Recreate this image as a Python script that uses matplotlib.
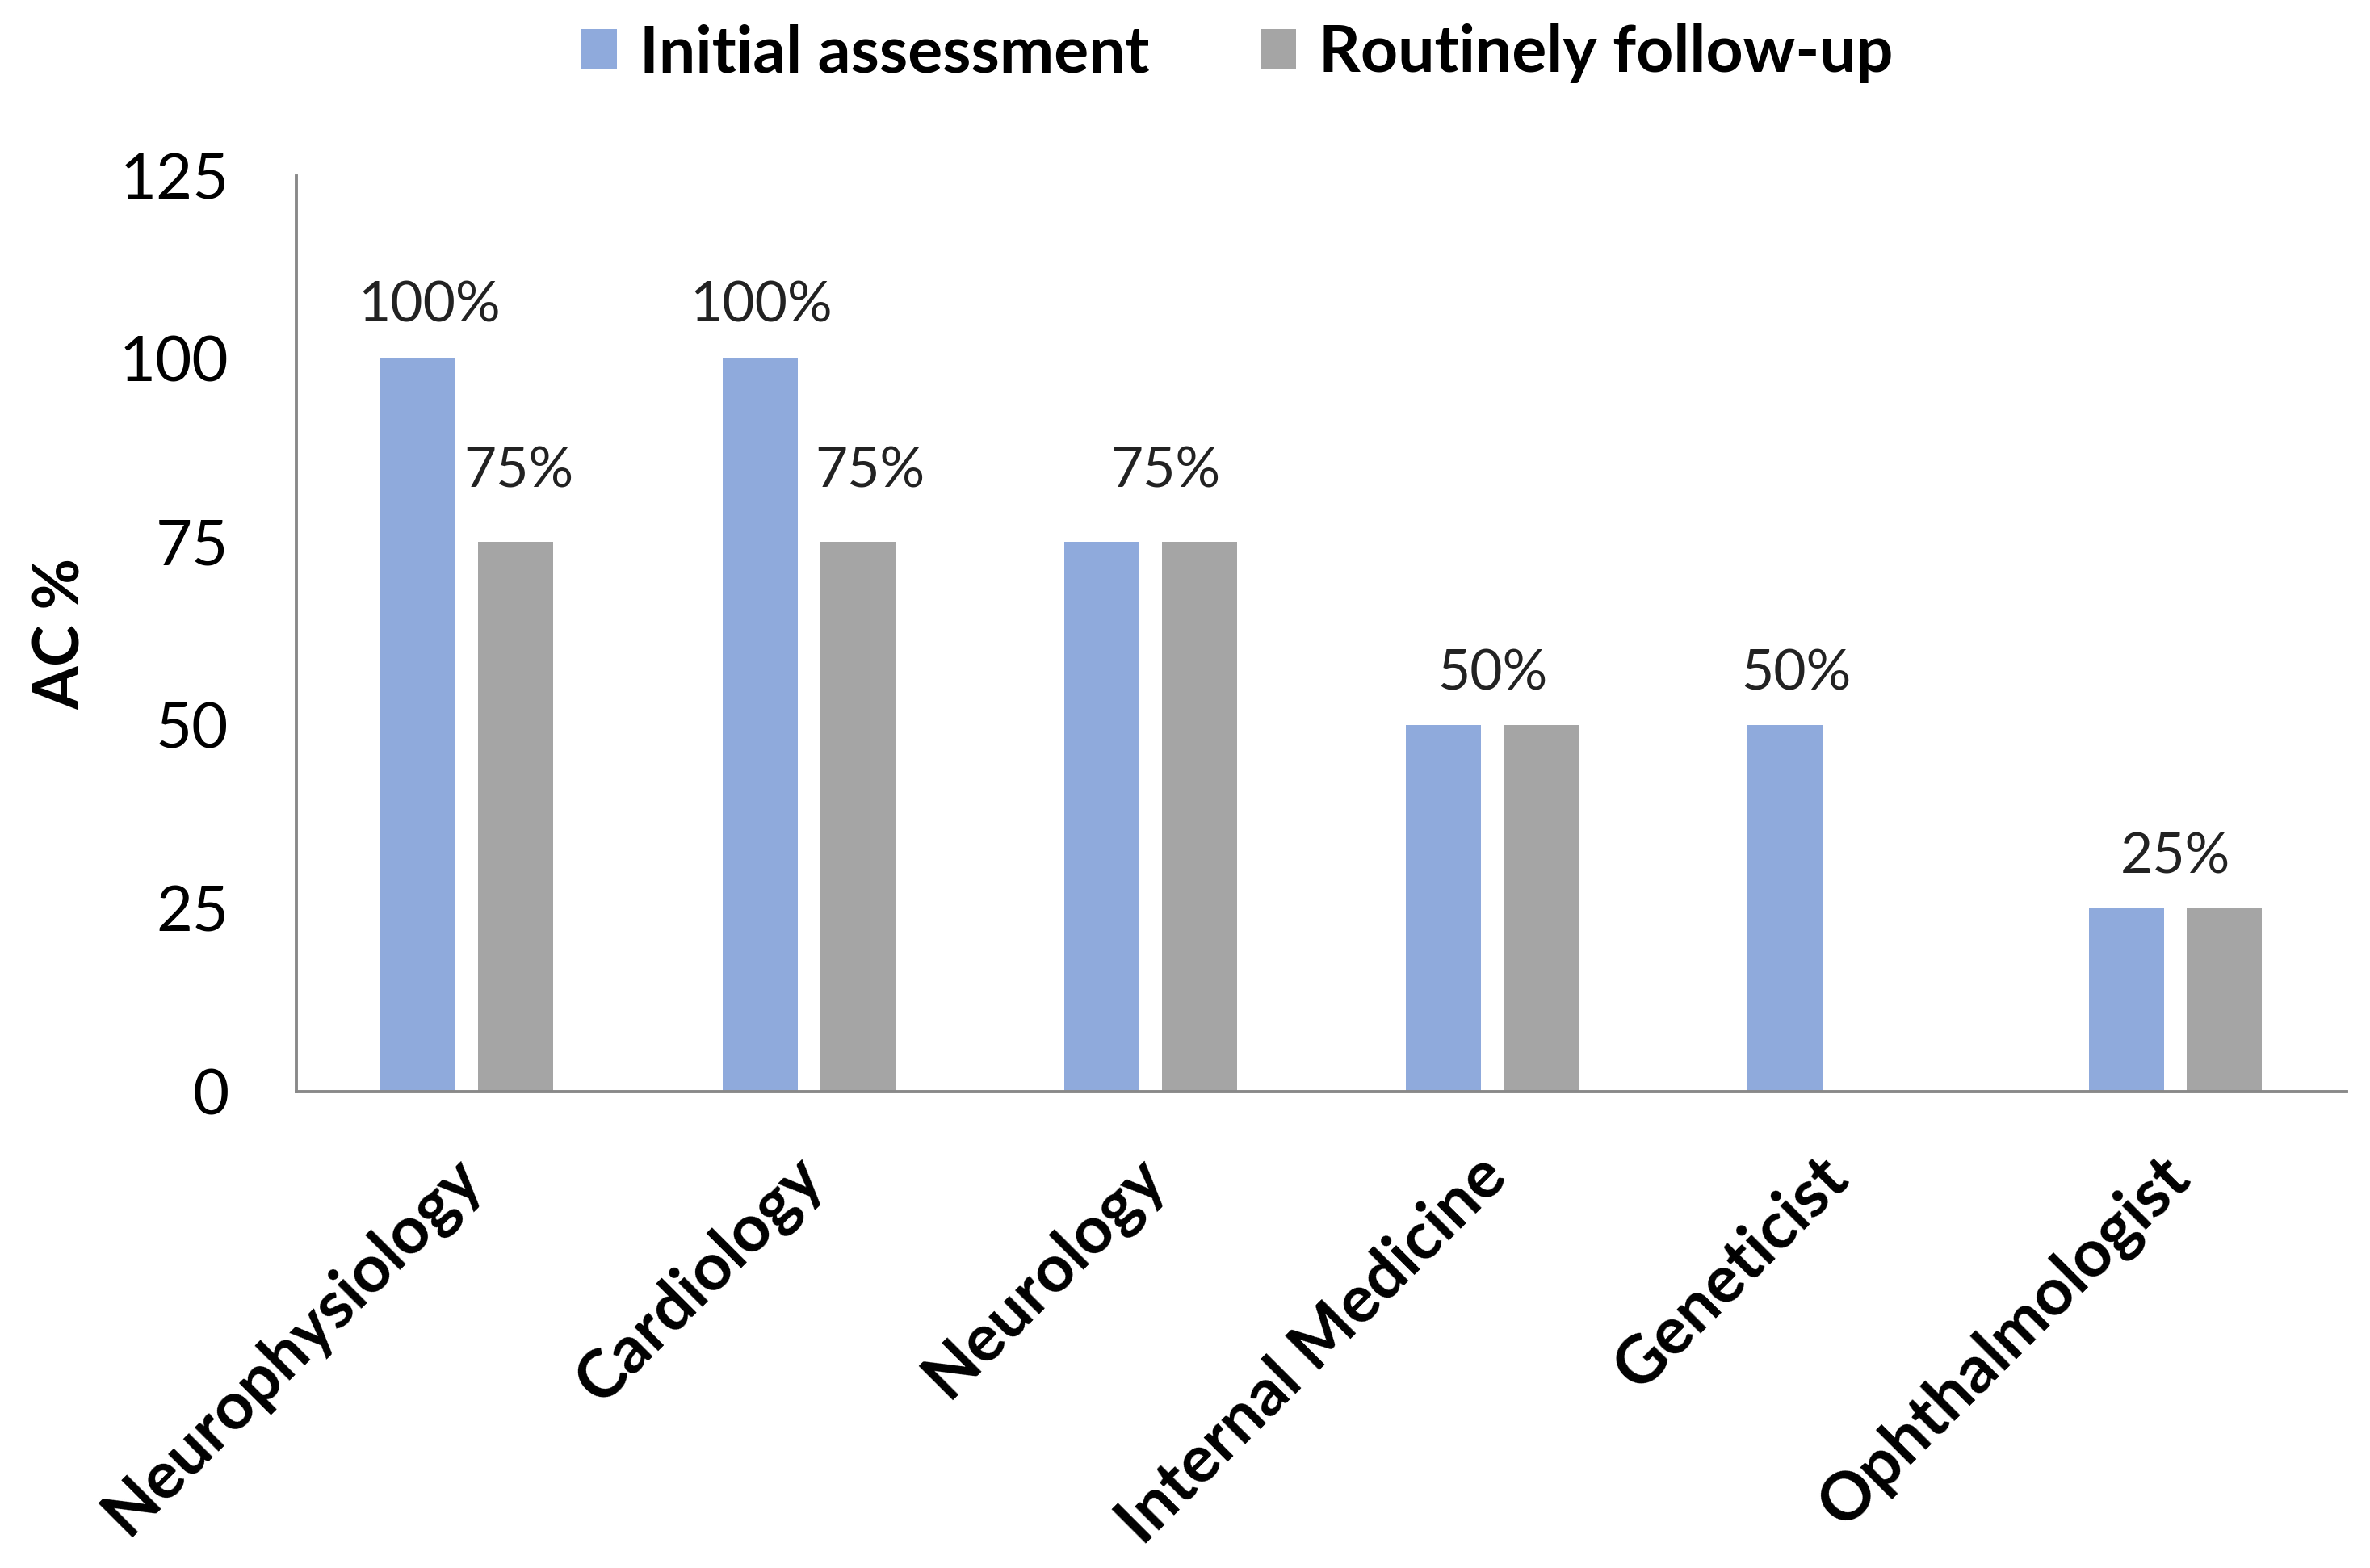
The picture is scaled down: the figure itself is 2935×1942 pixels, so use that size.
import numpy as np
import matplotlib.pyplot as plt
import matplotlib.transforms as mtransforms

plt.rcParams['font.family'] = ['Lato', 'DejaVu Sans']

# data
categories = ['Neurophysiology', 'Cardiology', 'Neurology',
              'Internal Medicine', 'Geneticist', 'Ophthalmologist']
initial = [100, 100, 75, 50, 50, 25]
followup = [75, 75, 75, 50, 0, 25]
series_names = ['Initial assessment', 'Routinely follow-up']

# value labels: (category index, value, text)
labels = [(0, 100, '100%'), (0, 75, '75%'),
          (1, 100, '100%'), (1, 75, '75%'),
          (2, 75, '75%'),
          (3, 50, '50%'),
          (4, 50, '50%'),
          (5, 25, '25%')]
# label placement (x shift in category units, y gap in data units)
label_dx = [-0.11, 0.15, -0.14, 0.18, 0.045, 0.0, -0.11, 0.0]
label_dy = [5.0, 7.5, 5.0, 7.5, 7.5, 4.8, 4.8, 4.8]

blue = '#8FAADC'
gray = '#A5A5A5'

fig = plt.figure(figsize=(14.675, 9.71), dpi=200)
ax = fig.add_axes([0.125, 0.304, 0.865, 0.584])

x = np.arange(len(categories))
w = 0.22
off = 0.143
b1 = ax.bar(x - off, initial, w, color=blue, label=series_names[0])
b2 = ax.bar(x + off, followup, w, color=gray, label=series_names[1])

for (i, v, t), dx, dy in zip(labels, label_dx, label_dy):
    ax.text(i + dx, v + dy, t, ha='center', va='baseline', fontsize=25, color='#222222')

ax.set_xlim(-0.5, len(categories) - 0.5)
ax.set_ylim(0, 125)
ax.set_yticks([0, 25, 50, 75, 100, 125])
ax.tick_params(axis='y', length=0, pad=30, labelsize=28)
ax.tick_params(axis='x', length=0, pad=24)
ax.set_xticks(x)
ax.set_xticklabels(categories, fontsize=29.5, fontweight='bold', rotation=45,
                   ha='right', va='top', rotation_mode='anchor')
shift = mtransforms.ScaledTranslation(-0.11, 0, fig.dpi_scale_trans)
for lab in ax.get_xticklabels():
    lab.set_transform(lab.get_transform() + shift)

ax.set_ylabel('AC %', fontsize=28, fontweight='bold')
ax.yaxis.set_label_coords(-0.1, 0.5)

for s in ['top', 'right']:
    ax.spines[s].set_visible(False)
for s in ['left', 'bottom']:
    ax.spines[s].set_color('#898989')
    ax.spines[s].set_linewidth(1.4)

fig.legend(handles=[b1, b2], loc='center', bbox_to_anchor=(0.522, 0.966),
           ncol=2, frameon=False, prop={'size': 29, 'weight': 'bold'},
           handlelength=0.55, handleheight=0.55, handletextpad=0.35,
           columnspacing=1.7)

fig.savefig('out.png', dpi=200)
